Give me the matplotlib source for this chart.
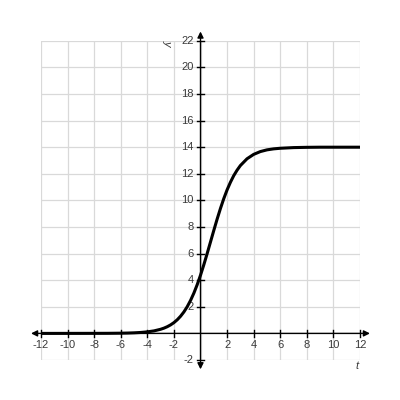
import matplotlib
matplotlib.use("Agg")
import matplotlib.pyplot as plt

plt.rcParams['font.family'] = ['Liberation Sans', 'DejaVu Sans']
plt.rcParams['axes.unicode_minus'] = False

# points (t, y)
t_vals = [-12, -11, -10, -9, -8, -7, -6, -5.5, -5, -4.5, -4, -3.5, -3, -2.75,
          -2.5, -2.25, -2, -1.75, -1.5, -1.25, -1, -0.75, -0.5, -0.25, 0,
          0.25, 0.5, 0.75, 1, 1.25, 1.5, 1.75, 2, 2.25, 2.5, 2.75, 3, 3.5,
          4, 4.5, 5, 5.5, 6, 7, 8, 9, 10, 11, 12]
y_vals = [0.0, 0.0, 0.001, 0.002, 0.004, 0.006, 0.016, 0.026, 0.043, 0.070,
          0.116, 0.189, 0.31, 0.395, 0.504, 0.640, 0.811, 1.025, 1.29, 1.613,
          2.005, 2.475, 3.026, 3.66, 4.375, 5.16, 6.0, 6.87, 7.74, 8.59, 9.39,
          10.13, 10.79, 11.36, 11.86, 12.27, 12.62, 13.13, 13.46, 13.67, 13.80,
          13.875, 13.92, 13.97, 13.99, 14.0, 14.0, 14.0, 14.0]

x_ticks = list(range(-12, 13, 2))
y_ticks = list(range(-2, 23, 2))

fig = plt.figure(figsize=(4, 4), dpi=100)
ax = fig.add_axes([0.1025, 0.1, 0.7975, 0.798])
ax.set_xlim(-12, 12)
ax.set_ylim(-2, 22)

for v in x_ticks:
    ax.axvline(v, color='#d9d9d9', lw=0.9, zorder=0)
for v in y_ticks:
    ax.axhline(v, color='#d9d9d9', lw=0.9, zorder=0)

for s in ax.spines.values():
    s.set_visible(False)
ax.set_xticks([])
ax.set_yticks([])

# axes with arrows
ax.annotate('', xy=(12.75, 0), xytext=(-12.75, 0), annotation_clip=False,
            arrowprops=dict(arrowstyle='<|-|>', color='black', lw=1.0,
                            mutation_scale=9, shrinkA=0, shrinkB=0))
ax.annotate('', xy=(0, 22.7), xytext=(0, -2.7), annotation_clip=False,
            arrowprops=dict(arrowstyle='<|-|>', color='black', lw=1.0,
                            mutation_scale=9, shrinkA=0, shrinkB=0))

# tick marks and labels
for v in x_ticks:
    if v == 0:
        continue
    ax.plot([v, v], [-0.28, 0.28], color='black', lw=1.0, clip_on=False)
    ax.text(v, -0.5, str(v), ha='center', va='top', fontsize=8, color='#3a3a3a')
for v in y_ticks:
    if v == 0:
        continue
    ax.plot([-0.28, 0.28], [v, v], color='black', lw=1.0, clip_on=False)
    ax.text(-0.5, v, str(v), ha='right', va='center', fontsize=8, color='#3a3a3a')

ax.text(-2.5, 21.85, 'y', rotation=-90, fontsize=8, style='italic',
        color='#3a3a3a', ha='center', va='center')
ax.text(11.8, -2.45, 't', fontsize=8, style='italic', color='#3a3a3a',
        ha='center', va='center')

ax.plot(t_vals, y_vals, color='black', lw=2.2, solid_capstyle='butt', zorder=5)

fig.savefig('out.png', dpi=100)
